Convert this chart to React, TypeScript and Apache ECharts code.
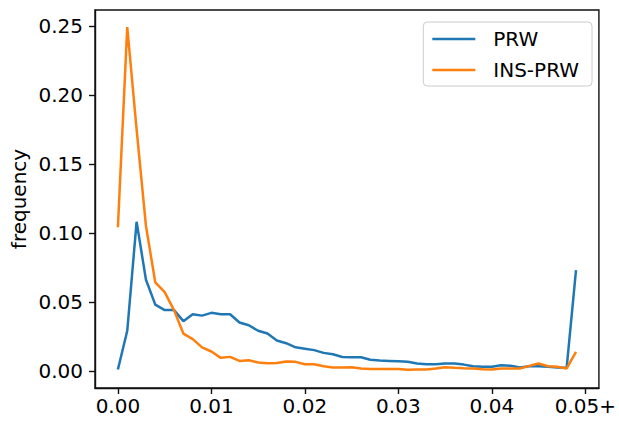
import React, { useEffect, useRef } from "react";
import * as echarts from "echarts";

const xValues = [
  0.0, 0.001, 0.002, 0.003, 0.004, 0.005, 0.006, 0.007, 0.008, 0.009,
  0.01, 0.011, 0.012, 0.013, 0.014, 0.015, 0.016, 0.017, 0.018, 0.019,
  0.02, 0.021, 0.022, 0.023, 0.024, 0.025, 0.026, 0.027, 0.028, 0.029,
  0.03, 0.031, 0.032, 0.033, 0.034, 0.035, 0.036, 0.037, 0.038, 0.039,
  0.04, 0.041, 0.042, 0.043, 0.044, 0.045, 0.046, 0.047, 0.048, 0.049,
];

const prw = [
  0.001, 0.029, 0.108, 0.066, 0.048, 0.044, 0.044, 0.036, 0.041, 0.040,
  0.042, 0.041, 0.041, 0.035, 0.033, 0.029, 0.027, 0.022, 0.020, 0.017,
  0.016, 0.015, 0.013, 0.012, 0.010, 0.0098, 0.0098, 0.008, 0.0074, 0.0072,
  0.007, 0.0065, 0.0053, 0.0048, 0.0048, 0.0053, 0.0053, 0.0045, 0.0033, 0.0029,
  0.0029, 0.0041, 0.0036, 0.0024, 0.0033, 0.0033, 0.0029, 0.0024, 0.0022, 0.073,
];

const insPrw = [
  0.104, 0.249, 0.175, 0.105, 0.064, 0.057, 0.044, 0.027, 0.023, 0.017,
  0.014, 0.0094, 0.0101, 0.0072, 0.0077, 0.006, 0.0055, 0.0057, 0.0067, 0.0065,
  0.0048, 0.0048, 0.0033, 0.0024, 0.0024, 0.0026, 0.0017, 0.0014, 0.0014, 0.0014,
  0.0014, 0.0007, 0.001, 0.001, 0.0017, 0.0026, 0.0022, 0.0019, 0.0017, 0.0012,
  0.001, 0.0017, 0.0017, 0.0017, 0.0036, 0.0053, 0.0033, 0.0029, 0.0017, 0.0137,
];

const xTicks = [0, 0.01, 0.02, 0.03, 0.04, 0.05];
const xTickLabels = ["0.00", "0.01", "0.02", "0.03", "0.04", "0.05+"];
const yTicks = [0, 0.05, 0.1, 0.15, 0.2, 0.25];
const yTickLabels = ["0.00", "0.05", "0.10", "0.15", "0.20", "0.25"];

const FONT = "DejaVu Sans";

export default function App() {
  const ref = useRef<HTMLDivElement>(null);
  useEffect(() => {
    if (!ref.current) return;
    const chart = echarts.init(ref.current, null, { renderer: "svg" });
    const fmtX = (v: number) => {
      const i = xTicks.findIndex((t) => Math.abs(t - v) < 1e-9);
      return i >= 0 ? xTickLabels[i] : "";
    };
    const fmtY = (v: number) => {
      const i = yTicks.findIndex((t) => Math.abs(t - v) < 1e-9);
      return i >= 0 ? yTickLabels[i] : "";
    };
    chart.setOption({
      animation: false,
      backgroundColor: "#fff",
      grid: {
        left: 95,
        right: 16,
        top: 10,
        bottom: 34,
        show: true,
        borderColor: "#111",
        borderWidth: 1.4,
        backgroundColor: "transparent",
      },
      xAxis: {
        type: "value",
        min: -0.00245,
        max: 0.05145,
        splitLine: { show: false },
        axisLine: { show: true, onZero: false, lineStyle: { color: "#111", width: 1.4 } },
        axisTick: {
          show: true,
          length: 6,
          customValues: xTicks,
          lineStyle: { color: "#111", width: 1.4 },
        },
        axisLabel: {
          customValues: xTicks,
          formatter: fmtX,
          color: "#000",
          fontFamily: FONT,
          fontSize: 20,
          margin: 8,
        },
      },
      yAxis: {
        type: "value",
        min: -0.01245,
        max: 0.26145,
        splitLine: { show: false },
        axisLine: { show: true, onZero: false, lineStyle: { color: "#111", width: 1.4 } },
        axisTick: {
          show: true,
          length: 6,
          customValues: yTicks,
          lineStyle: { color: "#111", width: 1.4 },
        },
        axisLabel: {
          customValues: yTicks,
          formatter: fmtY,
          color: "#000",
          fontFamily: FONT,
          fontSize: 20,
          margin: 12,
        },
      },
      legend: {
        orient: "vertical",
        right: 27,
        top: 22,
        backgroundColor: "#fff",
        borderColor: "#cccccc",
        borderWidth: 1,
        borderRadius: 4,
        padding: [7, 13, 6, 9],
        icon: "rect",
        itemWidth: 43,
        itemHeight: 2.5,
        itemGap: 11,
        textStyle: { fontFamily: FONT, fontSize: 20, color: "#000", padding: [0, 0, 0, 13] },
        data: ["PRW", "INS-PRW"],
      },
      graphic: [
        {
          type: "text",
          x: 19,
          y: 199,
          rotation: Math.PI / 2,
          style: {
            text: "frequency",
            font: `20px ${FONT}`,
            fill: "#000",
            align: "center",
            verticalAlign: "middle",
          },
        },
      ],
      series: [
        {
          name: "PRW",
          type: "line",
          data: xValues.map((x, i) => [x, prw[i]]),
          symbol: "none",
          lineStyle: { color: "#1f77b4", width: 2.5 },
          itemStyle: { color: "#1f77b4" },
          z: 2,
        },
        {
          name: "INS-PRW",
          type: "line",
          data: xValues.map((x, i) => [x, insPrw[i]]),
          symbol: "none",
          lineStyle: { color: "#ff7f0e", width: 2.5 },
          itemStyle: { color: "#ff7f0e" },
          z: 3,
        },
      ],
    });
    return () => chart.dispose();
  }, []);
  return (
    <div
      ref={ref}
      style={{ position: "absolute", left: 0, top: 0, width: 619, height: 422 }}
    />
  );
}
